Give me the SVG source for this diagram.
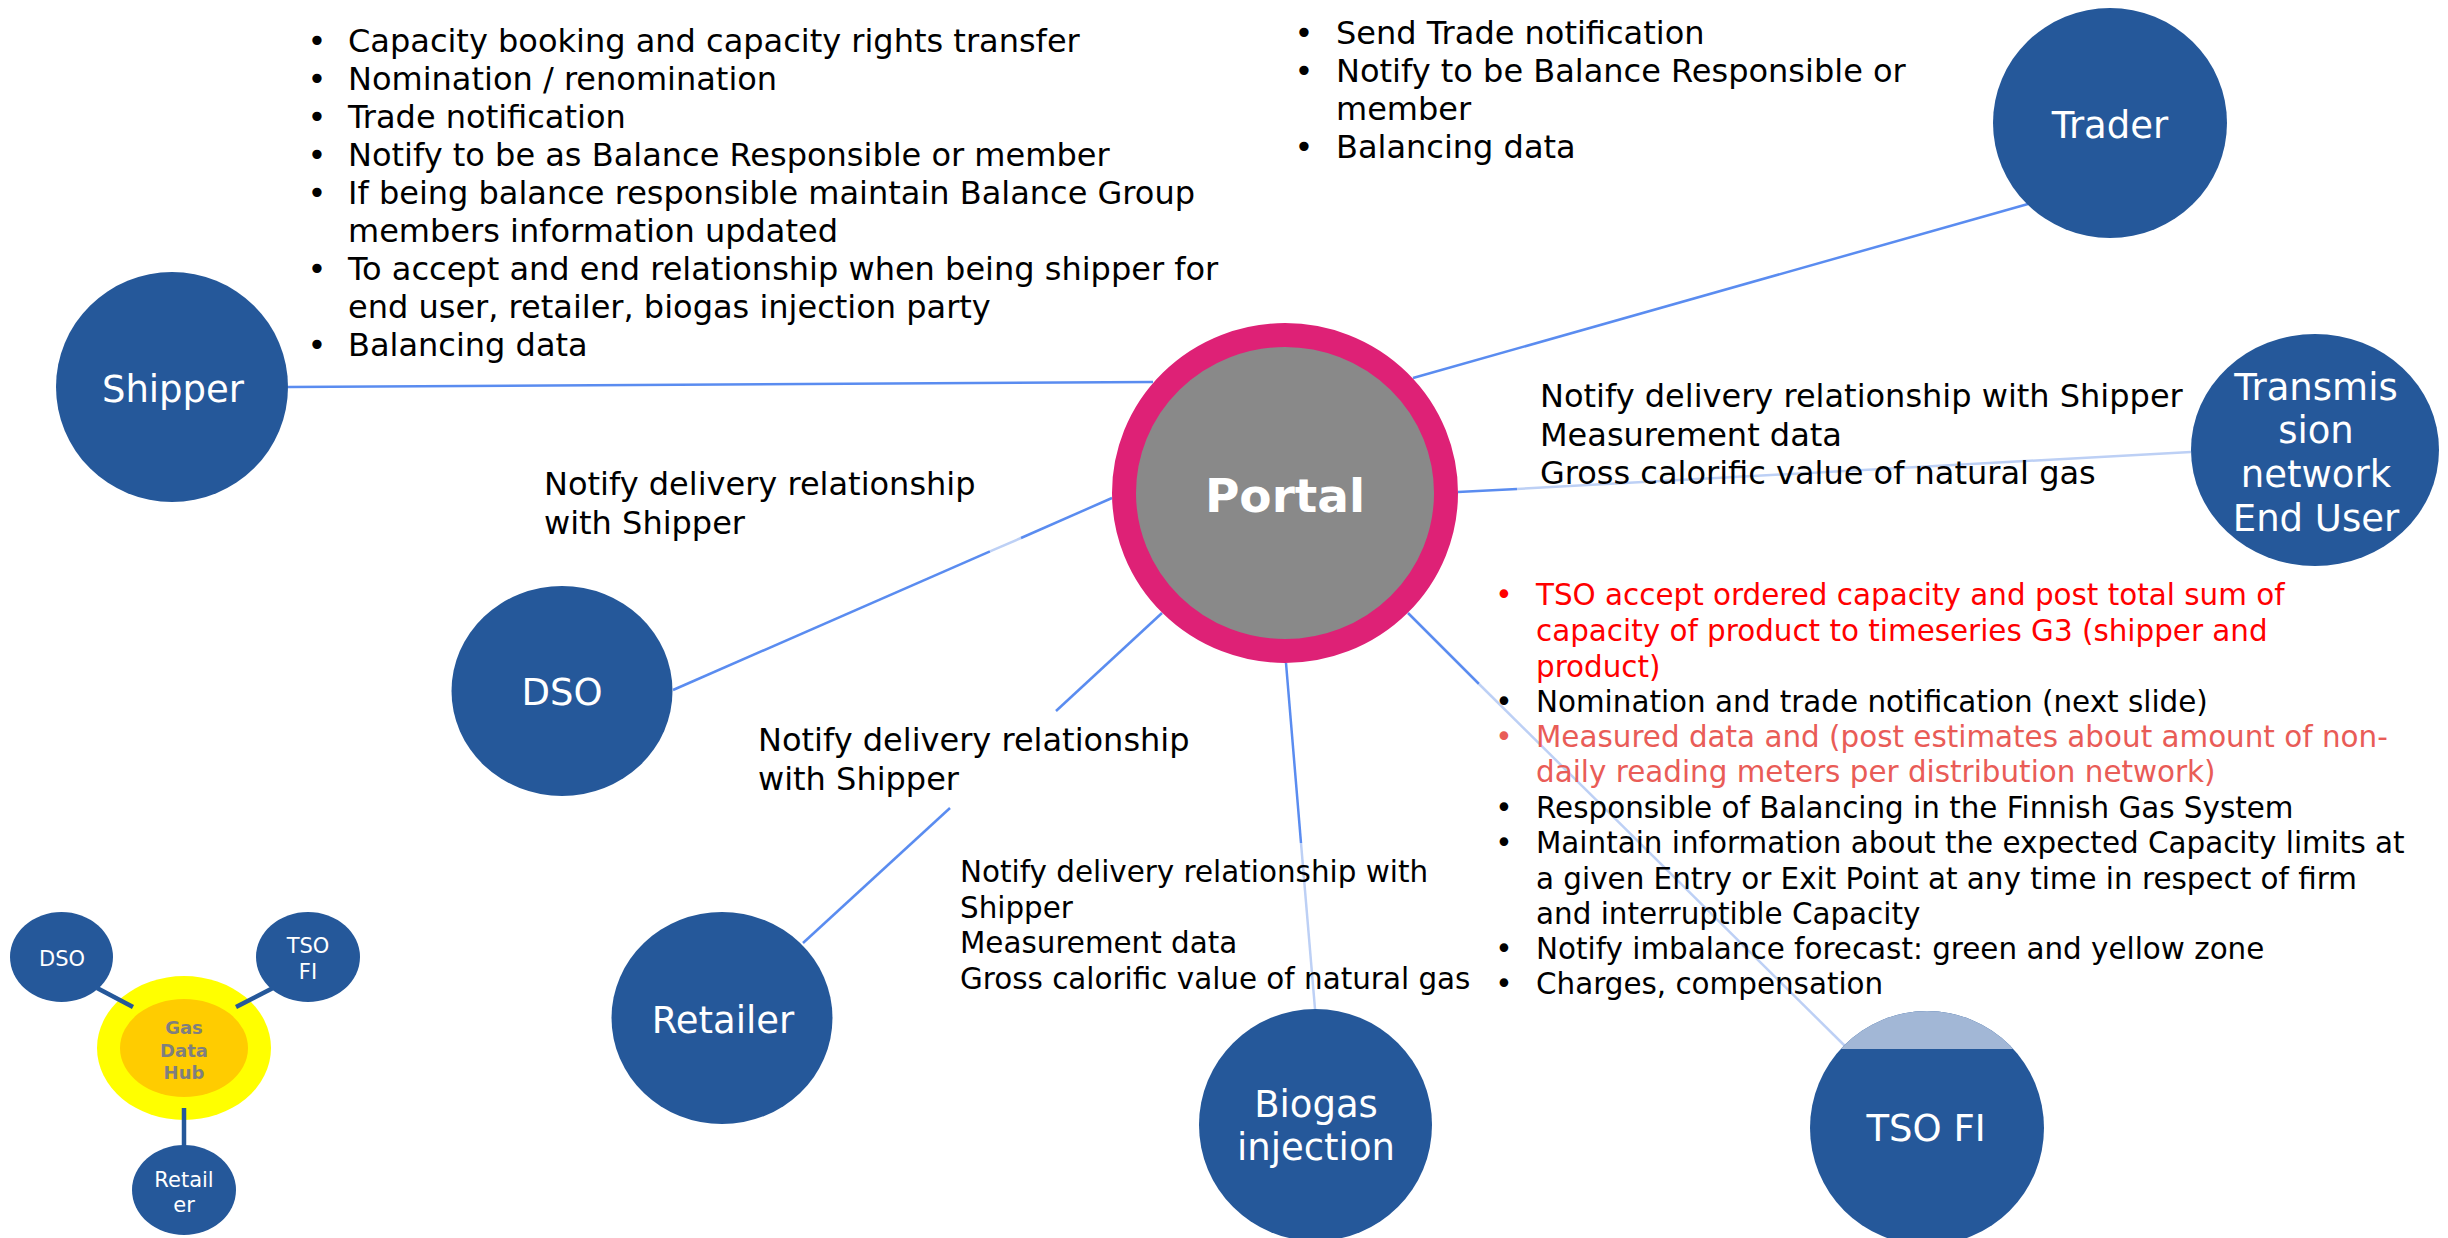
<svg xmlns="http://www.w3.org/2000/svg" width="2448" height="1238" viewBox="0 0 2448 1238">
<style>
.node{fill:#25589A}
.lbl{fill:#FFFFFF;font-family:"DejaVu Sans","Verdana",sans-serif;font-size:37px;text-anchor:middle}
.slbl{fill:#FFFFFF;font-family:"DejaVu Sans","Verdana",sans-serif;font-size:21px;text-anchor:middle}
.hub{fill:#7F7F7F;font-family:"DejaVu Sans","Verdana",sans-serif;font-size:18px;font-weight:bold;text-anchor:middle}
.t32{fill:#000000;font-family:"DejaVu Sans","Verdana",sans-serif;font-size:32px}
.t29{fill:#000000;font-family:"DejaVu Sans","Verdana",sans-serif;font-size:29.4px}
.b{text-anchor:middle}
.red{fill:#FF0000}
.lred{fill:#E95C57}
.conn{stroke:#5A8CF0;stroke-width:2.5;fill:none}
.connl{stroke:#BDD0F5;stroke-width:2.5;fill:none}
.sconn{stroke:#25589A;stroke-width:4.5;fill:none}
</style>
<defs>
<clipPath id="tsoClip"><ellipse cx="1927" cy="1128" rx="117" ry="117"/></clipPath>
</defs>
<rect x="0" y="0" width="2448" height="1238" fill="#FFFFFF"/>

<g id="connectors">
<line class="conn" x1="288" y1="387" x2="1153" y2="382"/>
<line class="conn" x1="2028" y1="204" x2="1413" y2="378"/>
<line class="conn" x1="1458" y1="492" x2="1517" y2="489"/>
<line class="connl" x1="1517" y1="489" x2="2191" y2="452"/>
<line class="conn" x1="673" y1="690" x2="990" y2="551.4"/>
<line class="connl" x1="990" y1="551.4" x2="1021" y2="538"/>
<line class="conn" x1="1021" y1="538" x2="1112" y2="498"/>
<line class="conn" x1="803" y1="943" x2="950" y2="808"/>
<line class="conn" x1="1056" y1="711" x2="1162" y2="613"/>
<line class="conn" x1="1286" y1="663" x2="1301" y2="843"/>
<line class="connl" x1="1301" y1="843" x2="1315" y2="1009"/>
<line class="conn" x1="1408" y1="613" x2="1479" y2="684"/>
<line class="connl" x1="1479" y1="684" x2="1845" y2="1046"/>
</g>

<g id="portal">
<ellipse cx="1285" cy="493" rx="161" ry="158" fill="#898989" stroke="#DE2176" stroke-width="24"/>
<text x="1285" y="512" fill="#FFFFFF" font-family="'DejaVu Sans','Verdana',sans-serif" font-size="47" font-weight="bold" text-anchor="middle">Portal</text>
</g>

<g id="shipper">
<ellipse class="node" cx="172" cy="387" rx="116" ry="115"/>
<text class="lbl" x="173" y="402">Shipper</text>
</g>

<g id="trader">
<ellipse class="node" cx="2110" cy="123" rx="117" ry="115"/>
<text class="lbl" x="2110" y="138">Trader</text>
</g>

<g id="transmission">
<ellipse class="node" cx="2315" cy="450" rx="124" ry="116"/>
<text class="lbl" x="2316" y="400">Transmis</text>
<text class="lbl" x="2316" y="443">sion</text>
<text class="lbl" x="2316" y="487">network</text>
<text class="lbl" x="2316" y="531">End User</text>
</g>

<g id="dso">
<ellipse class="node" cx="562" cy="691" rx="110.5" ry="105"/>
<text class="lbl" x="562" y="705">DSO</text>
</g>

<g id="retailer">
<ellipse class="node" cx="722" cy="1018" rx="110.5" ry="106"/>
<text class="lbl" x="723" y="1033">Retailer</text>
</g>

<g id="biogas">
<ellipse class="node" cx="1315.5" cy="1125" rx="116.5" ry="116"/>
<text class="lbl" x="1316" y="1117">Biogas</text>
<text class="lbl" x="1316" y="1160">injection</text>
</g>

<g id="tso-fi">
<ellipse class="node" cx="1927" cy="1128" rx="117" ry="117"/>
<rect x="1800" y="1000" width="260" height="49" fill="#A2B7D6" clip-path="url(#tsoClip)"/>
<text class="lbl" x="1926" y="1141">TSO FI</text>
</g>

<g id="shipper-notes">
<text class="t32 b" x="317" y="51.5">•</text>
<text class="t32" x="348" y="51.5">Capacity booking and capacity rights transfer</text>
<text class="t32 b" x="317" y="89.5">•</text>
<text class="t32" x="348" y="89.5">Nomination / renomination</text>
<text class="t32 b" x="317" y="127.6">•</text>
<text class="t32" x="348" y="127.6">Trade notification</text>
<text class="t32 b" x="317" y="165.7">•</text>
<text class="t32" x="348" y="165.7">Notify to be as Balance Responsible or member</text>
<text class="t32 b" x="317" y="203.8">•</text>
<text class="t32" x="348" y="203.8">If being balance responsible maintain Balance Group</text>
<text class="t32" x="348" y="241.9">members information updated</text>
<text class="t32 b" x="317" y="280">•</text>
<text class="t32" x="348" y="280">To accept and end relationship when being shipper for</text>
<text class="t32" x="348" y="318">end user, retailer, biogas injection party</text>
<text class="t32 b" x="317" y="356">•</text>
<text class="t32" x="348" y="356">Balancing data</text>
</g>

<g id="trader-notes">
<text class="t32 b" x="1304" y="43.5">•</text>
<text class="t32" x="1336" y="43.5">Send Trade notification</text>
<text class="t32 b" x="1304" y="81.5">•</text>
<text class="t32" x="1336" y="81.5">Notify to be Balance Responsible or</text>
<text class="t32" x="1336" y="119.5">member</text>
<text class="t32 b" x="1304" y="158">•</text>
<text class="t32" x="1336" y="158">Balancing data</text>
</g>

<g id="transmission-notes">
<text class="t32" x="1540" y="407">Notify delivery relationship with Shipper</text>
<text class="t32" x="1540" y="445.5">Measurement data</text>
<text class="t32" x="1540" y="484">Gross calorific value of natural gas</text>
</g>

<g id="dso-notes">
<text class="t32" x="544" y="495">Notify delivery relationship</text>
<text class="t32" x="544" y="534">with Shipper</text>
</g>

<g id="retailer-notes">
<text class="t32" x="758" y="751">Notify delivery relationship</text>
<text class="t32" x="758" y="790">with Shipper</text>
</g>

<g id="biogas-notes">
<text class="t29" x="960" y="882">Notify delivery relationship with</text>
<text class="t29" x="960" y="917.5">Shipper</text>
<text class="t29" x="960" y="953">Measurement data</text>
<text class="t29" x="960" y="988.5">Gross calorific value of natural gas</text>
</g>

<g id="tso-notes">
<text class="t29 b red" x="1504" y="605">•</text>
<text class="t29 red" x="1536" y="605">TSO accept ordered capacity and post total sum of</text>
<text class="t29 red" x="1536" y="641">capacity of product to timeseries G3 (shipper and</text>
<text class="t29 red" x="1536" y="676.5">product)</text>
<text class="t29 b" x="1504" y="711.5">•</text>
<text class="t29" x="1536" y="711.5">Nomination and trade notification (next slide)</text>
<text class="t29 b lred" x="1504" y="746.5">•</text>
<text class="t29 lred" x="1536" y="746.5">Measured data and (post estimates about amount of non-</text>
<text class="t29 lred" x="1536" y="782">daily reading meters per distribution network)</text>
<text class="t29 b" x="1504" y="818">•</text>
<text class="t29" x="1536" y="818">Responsible of Balancing in the Finnish Gas System</text>
<text class="t29 b" x="1504" y="853">•</text>
<text class="t29" x="1536" y="853">Maintain information about the expected Capacity limits at</text>
<text class="t29" x="1536" y="888.5">a given Entry or Exit Point at any time in respect of firm</text>
<text class="t29" x="1536" y="923.5">and interruptible Capacity</text>
<text class="t29 b" x="1504" y="958.5">•</text>
<text class="t29" x="1536" y="958.5">Notify imbalance forecast: green and yellow zone</text>
<text class="t29 b" x="1504" y="993.5">•</text>
<text class="t29" x="1536" y="993.5">Charges, compensation</text>
</g>

<g id="legend">
<g id="legend-hub">
<ellipse cx="184" cy="1048" rx="87" ry="72" fill="#FFFF00"/>
<ellipse cx="184" cy="1048" rx="64" ry="49" fill="#FFCC00"/>
<text class="hub" x="184" y="1034">Gas</text>
<text class="hub" x="184" y="1057">Data</text>
<text class="hub" x="184" y="1079">Hub</text>
</g>
<g id="legend-connectors">
<line class="sconn" x1="97" y1="988" x2="133" y2="1007"/>
<line class="sconn" x1="273" y1="988" x2="236" y2="1007"/>
<line class="sconn" x1="184" y1="1108" x2="184" y2="1146"/>
</g>
<g id="legend-dso">
<ellipse class="node" cx="61.5" cy="957" rx="51.5" ry="45"/>
<text class="slbl" x="62" y="966">DSO</text>
</g>
<g id="legend-tso">
<ellipse class="node" cx="308" cy="957" rx="52" ry="45"/>
<text class="slbl" x="308" y="953">TSO</text>
<text class="slbl" x="308" y="979">FI</text>
</g>
<g id="legend-retailer">
<ellipse class="node" cx="184" cy="1190" rx="52" ry="45"/>
<text class="slbl" x="184" y="1187">Retail</text>
<text class="slbl" x="184" y="1212">er</text>
</g>
</g>
</svg>
